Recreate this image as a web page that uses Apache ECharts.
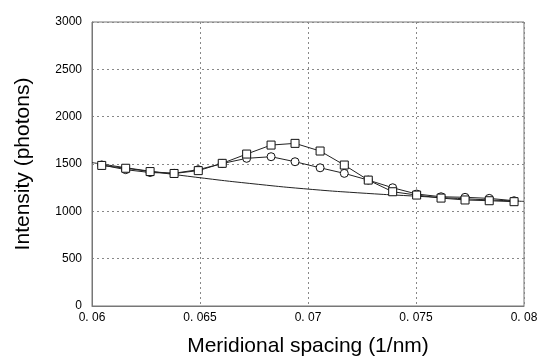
<!DOCTYPE html>
<html>
<head>
<meta charset="utf-8">
<script src="https://cdn.jsdelivr.net/npm/echarts@6/dist/echarts.min.js"></script>
<style>
  html, body { margin: 0; padding: 0; background: #fff; }
  #main { width: 539px; height: 356px; }
</style>
</head>
<body>
<div id="main"></div>
<script>
// spacing of the measured points (1/nm)
const spacing = [0.06045, 0.06156, 0.06269, 0.0638, 0.06492, 0.06603, 0.06716, 0.06829, 0.0694,
  0.07056, 0.07168, 0.07279, 0.07392, 0.07503, 0.07616, 0.07727, 0.07839, 0.07954];
const squareVals = [1485, 1455, 1420, 1400, 1430, 1507, 1605, 1700, 1718,
  1637, 1489, 1330, 1207, 1172, 1140, 1120, 1112, 1102];
const circleVals = [1490, 1440, 1410, 1402, 1440, 1505, 1560, 1577, 1524,
  1460, 1401, 1330, 1249, 1183, 1154, 1148, 1137, 1112];
// smooth background curve
const baseX = [0.06, 0.0625, 0.065, 0.0675, 0.07, 0.0725, 0.075, 0.0775, 0.08];
const baseVals = [1515, 1430, 1355, 1290, 1235, 1193, 1160, 1130, 1105];

const pairs = (xs, ys) => xs.map((x, i) => [x, ys[i]]);

const chart = echarts.init(document.getElementById('main'));
const tickFont = { fontFamily: 'Liberation Sans', fontSize: 12, color: '#000' };
const titleFont = { fontFamily: 'Liberation Sans', fontSize: 21, color: '#000' };
const gridLine = { show: true, lineStyle: { type: [2, 3], color: '#888', width: 1 } };

chart.setOption({
  animation: false,
  backgroundColor: '#fff',
  grid: {
    left: 92, right: 15, top: 22, bottom: 50, outerBoundsMode: 'none',
    show: true, borderColor: '#777', borderWidth: 1
  },
  xAxis: {
    type: 'value', min: 0.06, max: 0.08, interval: 0.005,
    name: 'Meridional spacing (1/nm)', nameLocation: 'middle', nameGap: 30,
    nameTextStyle: Object.assign({ verticalAlign: 'top' }, titleFont),
    axisLine: { lineStyle: { color: '#777' } },
    axisTick: { show: false },
    axisLabel: Object.assign({ margin: 6,
      formatter: v => String(+v.toFixed(4)).replace('0.', '0. ') }, tickFont),
    splitLine: gridLine
  },
  yAxis: {
    type: 'value', min: 0, max: 3000, interval: 500,
    name: 'Intensity (photons)', nameLocation: 'middle', nameGap: 58,
    nameTextStyle: titleFont,
    axisLine: { show: true, lineStyle: { color: '#777' } },
    axisTick: { show: false },
    axisLabel: Object.assign({ margin: 10, formatter: v => String(v) }, tickFont),
    splitLine: gridLine
  },
  series: [
    {
      type: 'line', data: pairs(baseX, baseVals), smooth: true, showSymbol: false,
      lineStyle: { color: '#222', width: 1 }
    },
    {
      type: 'line', data: pairs(spacing, circleVals), symbol: 'circle', symbolSize: 8,
      lineStyle: { color: '#222', width: 1 },
      itemStyle: { color: '#fff', borderColor: '#111', borderWidth: 1 }
    },
    {
      type: 'line', data: pairs(spacing, squareVals), symbol: 'rect', symbolSize: 8,
      lineStyle: { color: '#222', width: 1 },
      itemStyle: { color: '#fff', borderColor: '#111', borderWidth: 1 }
    }
  ]
});
</script>
</body>
</html>
